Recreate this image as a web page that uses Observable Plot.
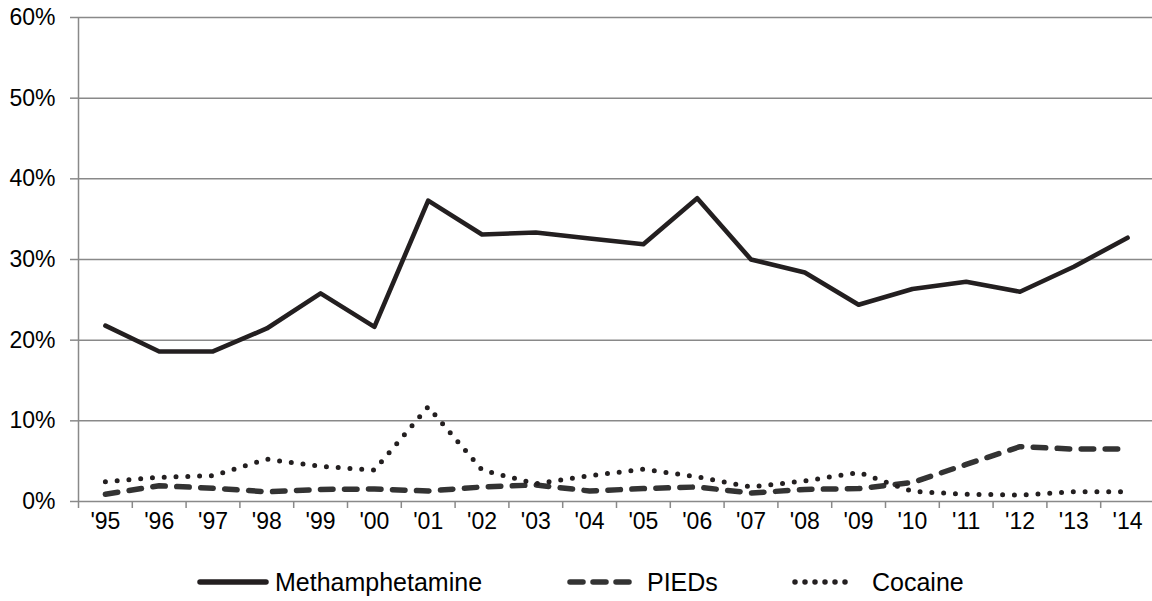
<!DOCTYPE html>
<html>
<head>
<meta charset="utf-8">
<script src="https://cdn.jsdelivr.net/npm/d3@7"></script>
<script src="https://cdn.jsdelivr.net/npm/@observablehq/plot@0.6"></script>
<style>
  html, body { margin: 0; padding: 0; background: #fff; overflow: hidden; }
  #chart svg { display: block; }
</style>
</head>
<body>
<div id="chart"></div>
<script>
const years = ["'95","'96","'97","'98","'99","'00","'01","'02","'03","'04","'05","'06","'07","'08","'09","'10","'11","'12","'13","'14"];
const meth = [21.8,18.6,18.6,21.45,25.8,21.65,37.3,33.1,33.35,32.6,31.9,37.6,30.0,28.4,24.4,26.35,27.25,26.0,29.1,32.7];
const pieds = [0.9,1.95,1.65,1.2,1.5,1.55,1.3,1.8,2.05,1.3,1.6,1.8,1.05,1.5,1.6,2.35,4.6,6.8,6.5,6.5];
const cocaine = [2.45,3.0,3.2,5.25,4.35,3.9,11.75,3.9,2.2,3.2,4.0,3.05,1.8,2.55,3.6,1.25,0.9,0.8,1.2,1.2];
const seriesNames = ["Methamphetamine","PIEDs","Cocaine"];
const yTicks = [0,10,20,30,40,50,60];

const FONT = "'Liberation Sans', Arial, Helvetica, sans-serif";
const GRID = "#898989";

const table = [];
[meth, pieds, cocaine].forEach((vals, s) => {
  vals.forEach((v, i) => table.push({series: seriesNames[s], i, value: v}));
});
const rowsOf = name => table.filter(d => d.series === name);

const styles = {
  "Methamphetamine": {stroke: "#231f20", strokeWidth: 4.6, strokeLinecap: "round"},
  "PIEDs": {stroke: "#333333", strokeWidth: 5.5, strokeDasharray: "12.5 11.5", strokeLinecap: "round"},
  "Cocaine": {stroke: "#231f20", strokeWidth: 5, strokeDasharray: "0 11.8", strokeLinecap: "round"}
};

const centers = years.map((_, i) => i + 0.5);
const bounds = d3.range(0, years.length + 1);

const plot = Plot.plot({
  width: 1152,
  height: 541,
  marginLeft: 78,
  marginRight: -2,
  marginTop: 17,
  marginBottom: 40,
  style: {fontFamily: FONT, fontSize: "23px", color: "black", background: "white"},
  x: {type: "linear", domain: [0, years.length], axis: null, label: null},
  y: {domain: [0, 60], axis: null, label: null},
  marks: [
    Plot.ruleY(yTicks, {stroke: GRID, strokeWidth: 1.5}),
    Plot.ruleX([0], {stroke: GRID, strokeWidth: 1.5}),
    Plot.axisY({ticks: yTicks, tickSize: 8, tickPadding: 15, stroke: GRID, strokeWidth: 1.5, fill: "black", tickFormat: d => d + "%", label: null, fontSize: 23}),
    Plot.axisX({ticks: bounds, tickSize: 7, stroke: GRID, strokeWidth: 1.5, fill: "none", label: null}),
    Plot.axisX({ticks: centers, tickSize: 0, tickPadding: 11, fill: "black", tickFormat: d => years[Math.round(d - 0.5)], label: null, fontSize: 23}),
    ...seriesNames.map(name => Plot.lineY(rowsOf(name), {
      x: d => d.i + 0.5, y: "value", strokeLinejoin: "round", ...styles[name]
    }))
  ]
});
document.getElementById("chart").appendChild(plot);

// Legend below the chart
const legendPos = [
  {x0: 200, x1: 266, tx: 275},
  {x0: 570, x1: 630, tx: 647},
  {x0: 795, x1: 855, tx: 872}
];
const legendDash = {
  "Methamphetamine": null,
  "PIEDs": "13 10",
  "Cocaine": "0 10"
};
const lg = d3.create("svg")
  .attr("width", 1152).attr("height", 60)
  .style("display", "block").style("background", "white");
seriesNames.forEach((name, k) => {
  const p = legendPos[k];
  const st = styles[name];
  lg.append("line")
    .attr("x1", p.x0).attr("x2", p.x1).attr("y1", 41).attr("y2", 41)
    .attr("stroke", st.stroke).attr("stroke-width", name === "Methamphetamine" ? 5.5 : 5.5)
    .attr("stroke-linecap", "round")
    .attr("stroke-dasharray", legendDash[name]);
  lg.append("text")
    .attr("x", p.tx).attr("y", 41).attr("dy", "0.35em")
    .attr("font-family", FONT).attr("font-size", 25).attr("fill", "black")
    .text(name);
});
document.getElementById("chart").appendChild(lg.node());
</script>
</body>
</html>
